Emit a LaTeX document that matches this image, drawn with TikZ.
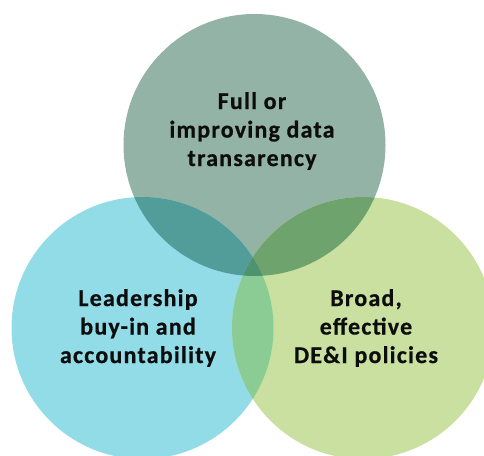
\documentclass[tikz,border=0pt]{standalone}
\usepackage{fontspec}
\setmainfont{Carlito}
\newfontfamily\lblfont[LetterSpace=5,FakeBold=0.6]{Carlito}
\definecolor{ctop}{HTML}{93B3A6}
\definecolor{cleft}{HTML}{92DCE8}
\definecolor{cright}{HTML}{C9E0A1}
\definecolor{ctl}{HTML}{529D99}
\definecolor{ctr}{HTML}{6FA36E}
\definecolor{clr}{HTML}{8BCC94}
\definecolor{cmid}{HTML}{4D9370}
\definecolor{ctext}{HTML}{0D0D0D}
\tikzset{
  lbl/.style={align=center, text=ctext, font=\lblfont\bfseries\fontsize{24}{28.5}\selectfont, inner sep=0pt},
}
\begin{document}
\begin{tikzpicture}[x=1pt,y=1pt]
\useasboundingbox (0,0) rectangle (484,455);
\clip (0,0) rectangle (484,455);
\coordinate (T) at (254.5,310);
\coordinate (L) at (142.5,127);
\coordinate (R) at (363,127);
\def\rad{131}
% base circles
\fill[ctop] (T) circle (\rad);
\fill[cleft] (L) circle (\rad);
\fill[cright] (R) circle (\rad);
% pairwise overlaps
\begin{scope}
  \clip (T) circle (\rad);
  \fill[ctl] (L) circle (\rad);
\end{scope}
\begin{scope}
  \clip (T) circle (\rad);
  \fill[ctr] (R) circle (\rad);
\end{scope}
\begin{scope}
  \clip (L) circle (\rad);
  \fill[clr] (R) circle (\rad);
\end{scope}
\begin{scope}
  \clip (T) circle (\rad);
  \clip (L) circle (\rad);
  \fill[cmid] (R) circle (\rad);
\end{scope}
% labels
\node[lbl] (ttop) at (252,324) {Full or\\improving data\\transarency};
\node[lbl] (tleft) at (138,127) {Leadership\\buy-in and\\accountability};
\node[lbl] (tright) at (366,127) {Broad,\\effective\\DE\&I policies};
\end{tikzpicture}
\end{document}
